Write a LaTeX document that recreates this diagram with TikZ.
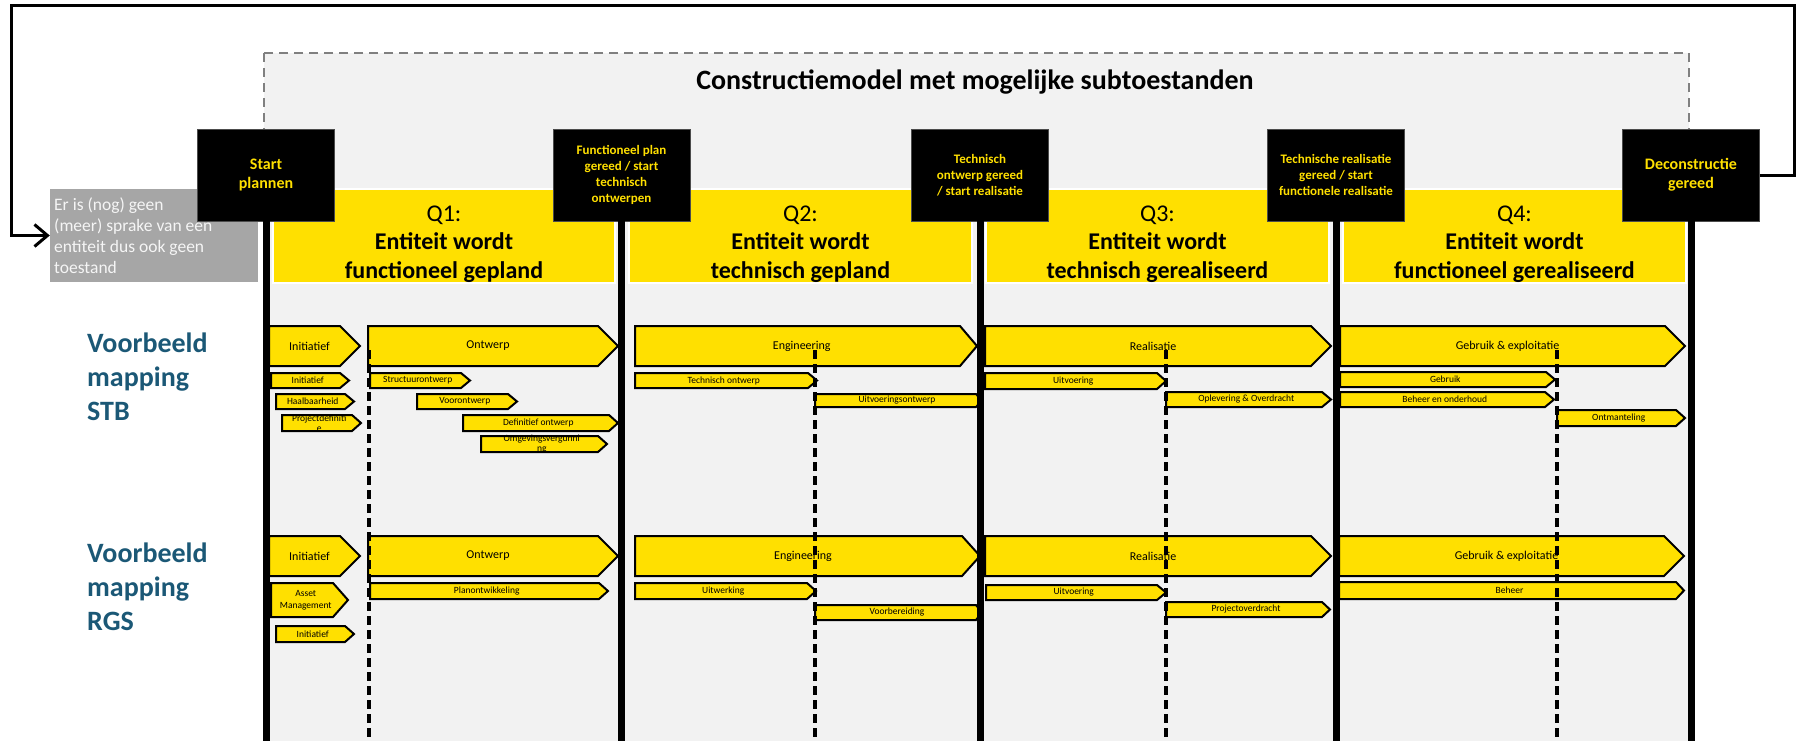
\documentclass[tikz,border=0pt]{standalone}
\usepackage{fontspec}
\setmainfont{Carlito}
\usetikzlibrary{arrows.meta}
\definecolor{ybar}{RGB}{255,224,0}
\definecolor{bgfill}{RGB}{242,242,242}
\definecolor{greybox}{RGB}{166,166,166}
\definecolor{dashgrey}{RGB}{128,128,128}
\definecolor{mapblue}{RGB}{27,88,118}
\definecolor{greytext}{RGB}{245,245,245}
\tikzset{
  bigtxt/.style={font=\fontsize{12}{14}\selectfont, inner sep=0pt, align=center},
  smalltxt/.style={font=\fontsize{9.5}{10}\selectfont, inner sep=0pt, align=center},
  amtxt/.style={font=\fontsize{9.5}{12}\selectfont, inner sep=0pt, align=center},
  pentshape/.style={draw=black, fill=ybar, line width=2pt, line join=miter},
  qband/.style={fill=ybar, draw=white, line width=1.5pt, minimum height=94pt, inner sep=0pt},
  qtext/.style={font=\fontsize{24}{28.5}\selectfont, align=center, inner sep=0pt},
  msbox/.style={fill=black, draw=black!70, line width=0.6pt, minimum width=137pt, minimum height=92pt, text=ybar, align=center, inner sep=0pt},
  msbig/.style={msbox, font=\bfseries\fontsize{16}{19}\selectfont},
  mssmall/.style={msbox, font=\bfseries\fontsize{13}{16}\selectfont},
  thickline/.style={line width=7pt, black},
  dashline/.style={line width=3.5pt, black, dash pattern=on 9pt off 5pt},
  maptxt/.style={font=\bfseries\fontsize{28}{34}\selectfont, text=mapblue, align=left, inner sep=0pt, anchor=north west},
  loopline/.style={line width=3pt, black, line join=miter, -{Straight Barb[length=13pt, width=22pt]}},
}
\newcommand{\pent}[8]{%
  \draw[pentshape] (#2,#3) -- ({#4-#6},#3) -- (#4,{(#3+#5)/2}) -- ({#4-#6},#5) -- (#2,#5) -- cycle;
  \node[#7] (#1) at ({(#2+#4)/2-#6/4},{(#3+#5)/2}) {#8};
}
\begin{document}
\begin{tikzpicture}[x=1pt,y=-1pt]
\useasboundingbox (0,0) rectangle (1797,740);
\clip (0,0) rectangle (1797,740);
\fill[white] (0,0) rectangle (1797,740);
% construction model frame
\draw[fill=bgfill, draw=dashgrey, line width=2.5pt, dash pattern=on 9pt off 6pt] (264,53) rectangle (1689,800);
\node[font=\bfseries\fontsize{28}{32}\selectfont, inner sep=0pt] (title) at (975,82) {Constructiemodel met mogelijke subtoestanden};
% Q bands
\node[qband, minimum width=342pt] (q1) at (444,236) {};
\node[qband, minimum width=343pt] (q2) at (800.5,236) {};
\node[qband, minimum width=343pt] (q3) at (1157.5,236) {};
\node[qband, minimum width=343pt] (q4) at (1514.5,236) {};
\node[qtext] (q1t) at ([yshift=-8pt]q1.center) {Q1:\\\textbf{Entiteit wordt}\\\textbf{functioneel gepland}};
\node[qtext] (q2t) at ([yshift=-8pt]q2.center) {Q2:\\\textbf{Entiteit wordt}\\\textbf{technisch gepland}};
\node[qtext] (q3t) at ([yshift=-8pt]q3.center) {Q3:\\\textbf{Entiteit wordt}\\\textbf{technisch gerealiseerd}};
\node[qtext] (q4t) at ([yshift=-8pt]q4.center) {Q4:\\\textbf{Entiteit wordt}\\\textbf{functioneel gerealiseerd}};
% grey state box
\node[fill=greybox, minimum width=208pt, minimum height=93pt, inner sep=0pt] (grey) at (154,235.5) {};
% mapping labels
\node[maptxt] (stb) at (87,333) {Voorbeeld\\mapping\\STB};
\node[maptxt] (rgs) at (87,543) {Voorbeeld\\mapping\\RGS};
% row 1: STB
\pent{a1i}{269}{326}{360}{366}{20}{bigtxt}{Initiatief}
\pent{a1o}{368}{326}{618}{366}{20}{bigtxt}{Ontwerp}
\pent{a1e}{635}{326}{977}{366}{17}{bigtxt}{Engineering}
\pent{a1r}{985}{326}{1331}{366}{20}{bigtxt}{Realisatie}
\pent{a1g}{1340}{326}{1685}{366}{20}{bigtxt}{Gebruik \& exploitatie}
\pent{s1a}{271}{373}{349}{388}{9}{smalltxt}{Initiatief}
\pent{s1b}{276}{394}{354}{409}{9}{smalltxt}{Haalbaarheid}
\pent{s1c}{282}{415}{361}{431}{9}{smalltxt}{Projectdefiniti\\e}
\pent{s1d}{370}{373}{470}{388}{9}{smalltxt}{Structuurontwerp}
\pent{s1e}{417}{394}{517}{409}{9}{smalltxt}{Voorontwerp}
\pent{s1f}{463}{415}{618}{431}{9}{smalltxt}{Definitief ontwerp}
\pent{s1g}{481}{436}{607}{452}{9}{smalltxt}{Omgevingsvergunni\\ng}
\pent{s1h}{635}{373}{817}{388}{9}{smalltxt}{Technisch ontwerp}
\pent{s1i}{815}{394}{982}{407}{6}{smalltxt}{Uitvoeringsontwerp}
\pent{s1j}{985}{373}{1166}{389}{9}{smalltxt}{Uitvoering}
\pent{s1k}{1166}{392}{1331}{407}{9}{smalltxt}{Oplevering \& Overdracht}
\pent{s1l}{1340}{372}{1555}{387}{9}{smalltxt}{Gebruik}
\pent{s1m}{1340}{392}{1554}{407}{9}{smalltxt}{Beheer en onderhoud}
\pent{s1n}{1557}{410}{1685}{426}{9}{smalltxt}{Ontmanteling}
% row 2: RGS
\pent{a2i}{269}{536}{360}{576}{20}{bigtxt}{Initiatief}
\pent{a2o}{368}{536}{618}{576}{20}{bigtxt}{Ontwerp}
\pent{a2e}{635}{536}{980}{576}{18}{bigtxt}{Engineering}
\pent{a2r}{985}{536}{1331}{576}{20}{bigtxt}{Realisatie}
\pent{a2g}{1339}{536}{1684}{576}{20}{bigtxt}{Gebruik \& exploitatie}
\pent{s2a}{271}{583}{348}{617}{15}{amtxt}{Asset\\Management}
\pent{s2b}{276}{626}{354}{642}{9}{smalltxt}{Initiatief}
\pent{s2c}{370}{583}{608}{599}{9}{smalltxt}{Planontwikkeling}
\pent{s2d}{635}{583}{816}{599}{9}{smalltxt}{Uitwerking}
\pent{s2e}{815}{605}{982}{620}{6}{smalltxt}{Voorbereiding}
\pent{s2f}{986}{585}{1166}{600}{9}{smalltxt}{Uitvoering}
\pent{s2g}{1166}{602}{1330}{617}{8}{smalltxt}{Projectoverdracht}
\pent{s2h}{1339}{582}{1684}{599}{8}{smalltxt}{Beheer}
% milestone boxes
\node[msbig] (m0) at (266,175) {Start\\plannen};
\node[mssmall] (m1) at (621.5,175) {Functioneel plan\\gereed / start\\technisch\\ontwerpen};
\node[mssmall] (m2) at (980,175) {Technisch\\ontwerp gereed\\/ start realisatie};
\node[mssmall] (m3) at (1336,175) {Technische realisatie\\gereed / start\\functionele realisatie};
\node[msbig] (m4) at (1691,175) {Deconstructie\\gereed};
% phase boundaries
\draw[thickline] (m0.south) -- ++(0,530);
\draw[thickline] (m1.south) -- ++(0,530);
\draw[thickline] (m2.south) -- ++(0,530);
\draw[thickline] (m3.south) -- ++(0,530);
\draw[thickline] (m4.south) -- ++(0,530);
% sub-phase boundaries
\draw[dashline] (369,350) -- (369,745);
\draw[dashline] (815,350) -- (815,745);
\draw[dashline] (1166,350) -- (1166,745);
\draw[dashline] (1557,350) -- (1557,745);
% grey box text
\node[font=\fontsize{17.5}{21}\selectfont, text=greytext, align=left, inner sep=0pt, anchor=north west] (greyt) at (54,197) {Er is (nog) geen\\(meer) sprake van een\\entiteit dus ook geen\\toestand};
% loop back
\draw[loopline] (m4.east) -| (1794,5) -| ([xshift=-38pt]grey.west) -- (grey.west);
\end{tikzpicture}
\end{document}
